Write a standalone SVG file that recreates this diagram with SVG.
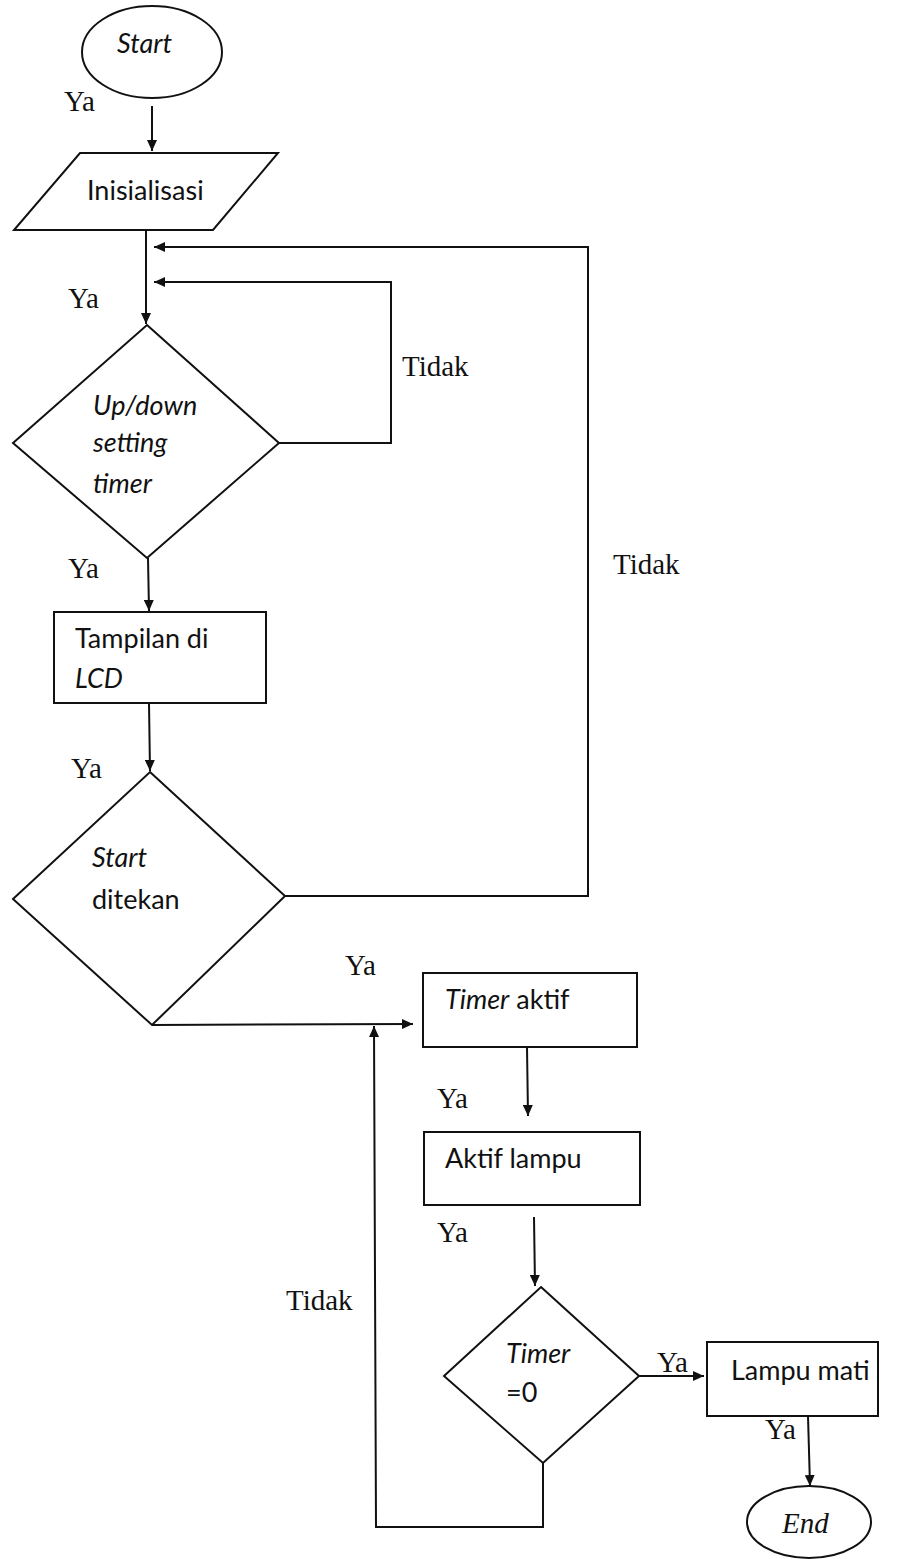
<svg xmlns="http://www.w3.org/2000/svg" width="897" height="1559" viewBox="0 0 897 1559">
<style>
.shape{fill:#fff;stroke:#111;stroke-width:2}
.conn{fill:none;stroke:#111;stroke-width:2}
.t{font-family:Lato,"Open Sans","Liberation Sans",sans-serif;font-size:27px;fill:#111}
.i{font-style:italic}
.lbl{font-family:"Liberation Serif","DejaVu Serif",serif;font-size:29px;fill:#111}
</style>
<defs>
<marker id="arr" markerUnits="userSpaceOnUse" markerWidth="12" markerHeight="10" refX="11" refY="5" orient="auto">
<path d="M0,0 L11,5 L0,10 z" fill="#111"/>
</marker>
</defs>
<rect width="897" height="1559" fill="#fff"/>
<g id="connectors">
<line class="conn" x1="152" y1="106" x2="152" y2="151" marker-end="url(#arr)"/>
<line class="conn" x1="146" y1="230" x2="146" y2="324" marker-end="url(#arr)"/>
<polyline class="conn" points="285,896 588,896 588,247 154,247" marker-end="url(#arr)"/>
<polyline class="conn" points="279,443 391,443 391,282 154,282" marker-end="url(#arr)"/>
<line class="conn" x1="148" y1="558" x2="149" y2="611" marker-end="url(#arr)"/>
<line class="conn" x1="149" y1="703" x2="150" y2="771" marker-end="url(#arr)"/>
<line class="conn" x1="152" y1="1025" x2="413" y2="1024" marker-end="url(#arr)"/>
<line class="conn" x1="527" y1="1047" x2="528" y2="1116" marker-end="url(#arr)"/>
<line class="conn" x1="534" y1="1217" x2="535" y2="1286" marker-end="url(#arr)"/>
<line class="conn" x1="639" y1="1376" x2="704" y2="1376" marker-end="url(#arr)"/>
<line class="conn" x1="808" y1="1416" x2="810" y2="1486" marker-end="url(#arr)"/>
<polyline class="conn" points="543,1463 543,1527 376,1527 374,1026" marker-end="url(#arr)"/>
</g>
<g id="labels">
<text class="lbl" x="64" y="111">Ya</text>
<text class="lbl" x="68" y="308">Ya</text>
<text class="lbl" x="402" y="376">Tidak</text>
<text class="lbl" x="68" y="578">Ya</text>
<text class="lbl" x="71" y="778">Ya</text>
<text class="lbl" x="613" y="574">Tidak</text>
<text class="lbl" x="345" y="975">Ya</text>
<text class="lbl" x="437" y="1108">Ya</text>
<text class="lbl" x="437" y="1242">Ya</text>
<text class="lbl" x="286" y="1310">Tidak</text>
<text class="lbl" x="657" y="1372">Ya</text>
<text class="lbl" x="765" y="1439">Ya</text>
</g>
<g id="start">
<ellipse class="shape" cx="152" cy="52" rx="70" ry="46"/>
<text class="t i" x="117" y="53">Start</text>
</g>
<g id="inisialisasi">
<polygon class="shape" points="80,153 278,153 213,230 14,230"/>
<text class="t" x="87" y="200">Inisialisasi</text>
</g>
<g id="updown">
<polygon class="shape" points="147,325 279,443 147,558 13,443"/>
<text class="t i" x="93" y="415">Up/down</text>
<text class="t i" x="93" y="452">setting</text>
<text class="t i" x="93" y="493">timer</text>
</g>
<g id="tampilan">
<rect class="shape" x="54" y="612" width="212" height="91"/>
<text class="t" x="75" y="648">Tampilan di</text>
<text class="t i" x="75" y="688">LCD</text>
</g>
<g id="startditekan">
<polygon class="shape" points="150,772 285,896 152,1025 13,899"/>
<text class="t i" x="92" y="867">Start</text>
<text class="t" x="92" y="909">ditekan</text>
</g>
<g id="timeraktif">
<rect class="shape" x="423" y="973" width="214" height="74"/>
<text class="t" x="445" y="1009"><tspan class="i">Timer</tspan> aktif</text>
</g>
<g id="aktiflampu">
<rect class="shape" x="424" y="1132" width="216" height="73"/>
<text class="t" x="445" y="1168">Aktif lampu</text>
</g>
<g id="timer0">
<polygon class="shape" points="541,1287 639,1376 543,1463 444,1376"/>
<text class="t i" x="506" y="1363">Timer</text>
<text class="t" x="506" y="1402">=0</text>
</g>
<g id="lampumati">
<rect class="shape" x="707" y="1342" width="171" height="74"/>
<text class="t" x="731" y="1380" font-size="25">Lampu mati</text>
</g>
<g id="end">
<ellipse class="shape" cx="809" cy="1522" rx="62" ry="36"/>
<text class="lbl" x="782" y="1533" font-style="italic" font-size="30">End</text>
</g>
</svg>
